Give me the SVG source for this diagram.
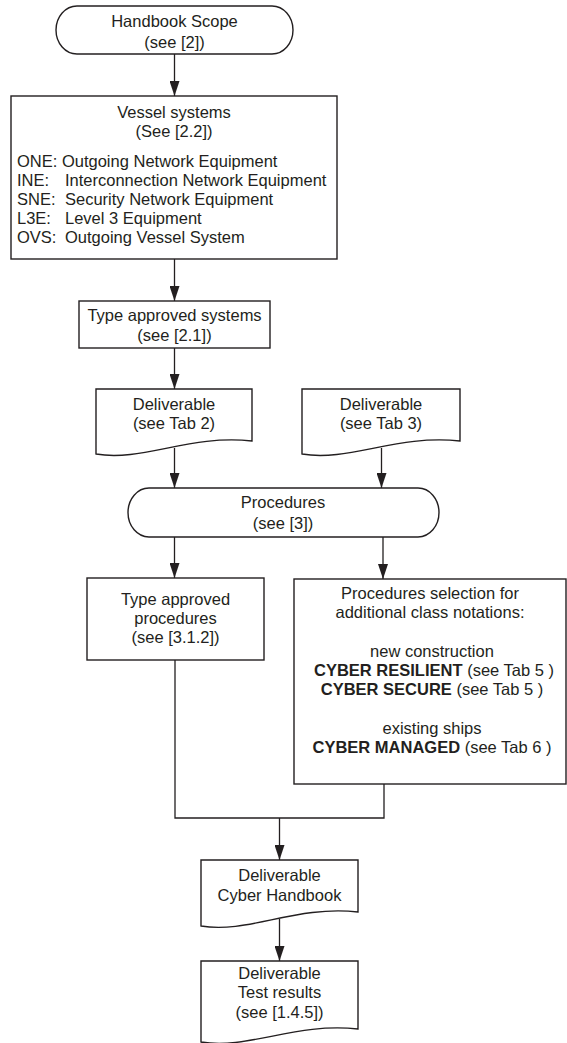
<svg xmlns="http://www.w3.org/2000/svg" width="567" height="1043" viewBox="0 0 567 1043">
  <style>
    .shape { fill: #ffffff; stroke: #231f20; stroke-width: 1.4; }
    .link { fill: none; stroke: #231f20; stroke-width: 1.3; }
    .arrow { marker-end: url(#head); }
    text { font-family: "Liberation Sans", Arial, sans-serif; font-size: 16.5px; fill: #231f20; }
    .c { text-anchor: middle; }
    .b { font-weight: bold; }
  </style>
  <defs>
    <marker id="head" markerUnits="userSpaceOnUse" markerWidth="10" markerHeight="15" viewBox="0 0 10 15" refX="5" refY="15" orient="0">
      <path d="M0,0 L10,0 L5,15 Z" fill="#231f20"/>
    </marker>
  </defs>

  <g id="handbook-scope">
    <rect class="shape" x="56" y="6" width="237" height="48" rx="21" ry="24"/>
    <text class="c" x="174.5" y="27">Handbook Scope</text>
    <text class="c" x="174.5" y="48">(see [2])</text>
  </g>

  <g id="vessel-systems">
    <rect class="shape" x="11" y="96" width="326" height="163"/>
    <text class="c" x="174" y="118">Vessel systems</text>
    <text class="c" x="174" y="137">(See [2.2])</text>
    <text x="17" y="167">ONE: Outgoing Network Equipment</text>
    <text y="186"><tspan x="17">INE:</tspan><tspan x="65">Interconnection Network Equipment</tspan></text>
    <text y="205"><tspan x="17">SNE:</tspan><tspan x="65">Security Network Equipment</tspan></text>
    <text y="224"><tspan x="17">L3E:</tspan><tspan x="65">Level 3 Equipment</tspan></text>
    <text y="243"><tspan x="17">OVS:</tspan><tspan x="65">Outgoing Vessel System</tspan></text>
  </g>

  <g id="type-approved-systems">
    <rect class="shape" x="79" y="301" width="191" height="47"/>
    <text class="c" x="174.5" y="321">Type approved systems</text>
    <text class="c" x="174.5" y="341">(see [2.1])</text>
  </g>

  <g id="deliverable-tab2">
    <path class="shape" d="M96,389 H252 V441 C189.6,434 142.8,462 96,454 Z"/>
    <text class="c" x="174" y="410">Deliverable</text>
    <text class="c" x="174" y="429">(see Tab 2)</text>
  </g>

  <g id="deliverable-tab3">
    <path class="shape" d="M302,389 H460 V441 C396.8,434 349.4,462 302,454 Z"/>
    <text class="c" x="381" y="410">Deliverable</text>
    <text class="c" x="381" y="429">(see Tab 3)</text>
  </g>

  <g id="procedures">
    <rect class="shape" x="128" y="488" width="311" height="49" rx="21" ry="24.5"/>
    <text class="c" x="283" y="508">Procedures</text>
    <text class="c" x="283" y="529">(see [3])</text>
  </g>

  <g id="type-approved-procedures">
    <rect class="shape" x="87" y="578" width="177" height="82"/>
    <text class="c" x="175.5" y="605">Type approved</text>
    <text class="c" x="175.5" y="624">procedures</text>
    <text class="c" x="175.5" y="643">(see [3.1.2])</text>
  </g>

  <g id="procedures-selection">
    <rect class="shape" x="294" y="579" width="272" height="205"/>
    <text class="c" x="430" y="599">Procedures selection for</text>
    <text class="c" x="430" y="618">additional class notations:</text>
    <text class="c" x="432" y="657">new construction</text>
    <text class="c" x="434" y="676"><tspan class="b">CYBER RESILIENT</tspan> (see Tab 5 )</text>
    <text class="c" x="432" y="695"><tspan class="b">CYBER SECURE</tspan> (see Tab 5 )</text>
    <text class="c" x="432" y="734">existing ships</text>
    <text class="c" x="432" y="753"><tspan class="b">CYBER MANAGED</tspan> (see Tab 6 )</text>
  </g>

  <g id="deliverable-handbook">
    <path class="shape" d="M201,860 H358 V912 C295.2,905 248.1,934 201,926 Z"/>
    <text class="c" x="279.5" y="881">Deliverable</text>
    <text class="c" x="279.5" y="901">Cyber Handbook</text>
  </g>

  <g id="deliverable-test-results">
    <path class="shape" d="M201,961 H358 V1029 C295.2,1022 248.1,1050 201,1042 Z"/>
    <text class="c" x="279.5" y="979">Deliverable</text>
    <text class="c" x="279.5" y="998">Test results</text>
    <text class="c" x="279.5" y="1018">(see [1.4.5])</text>
  </g>

  <g id="connectors">
    <line class="link arrow" x1="174.5" y1="54" x2="174.5" y2="96"/>
    <line class="link arrow" x1="174.5" y1="259" x2="174.5" y2="301"/>
    <line class="link arrow" x1="174.5" y1="348" x2="174.5" y2="389"/>
    <line class="link arrow" x1="174.5" y1="448" x2="174.5" y2="488"/>
    <line class="link arrow" x1="381.5" y1="448" x2="381.5" y2="488"/>
    <line class="link arrow" x1="174.5" y1="537" x2="174.5" y2="578"/>
    <line class="link arrow" x1="383" y1="537" x2="383" y2="579"/>
    <polyline class="link" points="175,660 175,818 384,818 384,784"/>
    <line class="link arrow" x1="279.5" y1="818" x2="279.5" y2="860"/>
    <line class="link arrow" x1="279.5" y1="919" x2="279.5" y2="961"/>
  </g>
</svg>
